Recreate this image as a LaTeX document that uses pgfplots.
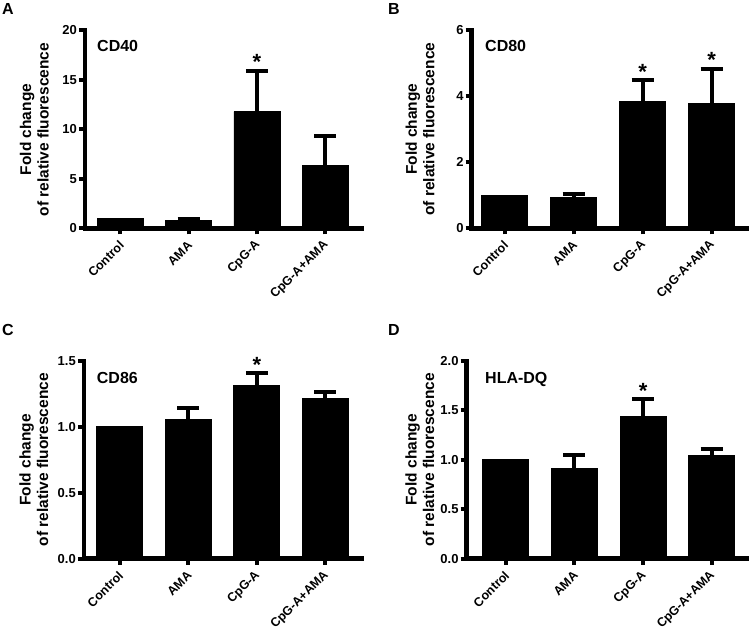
\documentclass[border=0pt]{standalone}
\usepackage{fontspec}
\setmainfont{Liberation Sans}
\usepackage{pgfplots}
\pgfplotsset{compat=1.18}

\newcommand\tickfont{\fontsize{13}{15}\selectfont\bfseries}
\newcommand\xfont{\fontsize{12.5}{14}\selectfont\bfseries}
\newcommand\labfont{\fontsize{15.5}{17.5}\selectfont\bfseries}
\newcommand\inner{\fontsize{16}{18}\selectfont\bfseries}
\newcommand\starfont{\fontsize{22}{24}\selectfont\bfseries}

\pgfplotsset{
  panel/.style={
    scale only axis,
    axis x line=bottom, axis y line=left,
    axis line style={-, line width=4.5pt, line cap=rect, black},
    tick align=outside,
    major tick length=6pt,
    tick style={line width=4pt, black},
    xtick={0,1,2,3},
    xticklabels={Control,AMA,CpG-A,CpG-A+AMA},
    xticklabel style={xshift=2pt, yshift=-8pt, rotate=45, anchor=east, font=\xfont, inner sep=1pt},
    yticklabel style={font=\tickfont, inner sep=2pt},
    /pgf/number format/assume math mode=true,
    ymin=0, enlargelimits=false,
    ylabel={Fold change\\of relative fluorescence},
    ylabel style={font=\labfont, align=center, anchor=center},
    ybar, bar width=46pt,
    clip=false,
  },
  barA/.style={fill=black, draw=black, line width=0.8pt, bar shift=0pt},
  barE/.style={fill=black, draw=black, line width=0.8pt, bar shift=0pt,
    error bars/.cd, y dir=plus, y explicit, error mark=-,
    error bar style={line width=4pt, black},
    error mark options={rotate=90, line width=4pt, mark size=11pt, black}},
}

\begin{document}
\begin{tikzpicture}
\useasboundingbox (0,0) rectangle (750pt,639pt);

% Panel letters
\node[anchor=base west, inner sep=0pt, font=\inner] at (2pt,624pt) {A};
\node[anchor=base west, inner sep=0pt, font=\inner] at (388pt,624pt) {B};
\node[anchor=base west, inner sep=0pt, font=\inner] at (2pt,303.5pt) {C};
\node[anchor=base west, inner sep=0pt, font=\inner] at (388pt,303pt) {D};

% Panel A
\begin{axis}[panel, at={(85pt,410.5pt)}, anchor=south west,
  width=277pt, height=198pt, xmin=-0.52, xmax=3.54,
  ymax=20, ytick={0,5,10,15,20},
  ylabel style={at={(axis description cs:-0.183,0.5)}}]
\addplot[barA] coordinates {(0,1.0)};
\addplot[barE] coordinates {(1,0.82) +- (0,0.18) (2,11.8) +- (0,4.15) (3,6.35) +- (0,2.95)};
\node[anchor=base west, inner sep=0pt, font=\inner] at (rel axis cs:0,1) [xshift=12pt, yshift=-21.5pt] {CD40};
\node[anchor=base, inner sep=0pt, font=\starfont] at (axis cs:2,15.95) [yshift=1pt] {*};
\end{axis}

% Panel B
\begin{axis}[panel, at={(471.7pt,410.7pt)}, anchor=south west,
  width=275pt, height=198pt, xmin=-0.48, xmax=3.51,
  ymax=6, ytick={0,2,4,6},
  ylabel style={at={(axis description cs:-0.188,0.5)}}]
\addplot[barA] coordinates {(0,1.0)};
\addplot[barE] coordinates {(1,0.93) +- (0,0.12) (2,3.84) +- (0,0.65) (3,3.77) +- (0,1.07)};
\node[anchor=base west, inner sep=0pt, font=\inner] at (rel axis cs:0,1) [xshift=13.3pt, yshift=-21.7pt] {CD80};
\node[anchor=base, inner sep=0pt, font=\starfont] at (axis cs:2,4.49) [yshift=1pt] {*};
\node[anchor=base, inner sep=0pt, font=\starfont] at (axis cs:3,4.84) [yshift=1pt] {*};
\end{axis}

% Panel C
\begin{axis}[panel, at={(84pt,80.3pt)}, anchor=south west,
  width=277.7pt, height=197.7pt, xmin=-0.52, xmax=3.53,
  ymax=1.5, ytick={0,0.5,1,1.5},
  yticklabel style={/pgf/number format/.cd, fixed, fixed zerofill, precision=1},
  ylabel style={at={(axis description cs:-0.181,0.5)}}]
\addplot[barA] coordinates {(0,1.0)};
\addplot[barE] coordinates {(1,1.057) +- (0,0.083) (2,1.313) +- (0,0.094) (3,1.217) +- (0,0.05)};
\node[anchor=base west, inner sep=0pt, font=\inner] at (rel axis cs:0,1) [xshift=12.7pt, yshift=-22.3pt] {CD86};
\node[anchor=base, inner sep=0pt, font=\starfont] at (axis cs:2,1.407) [yshift=1pt] {*};
\end{axis}

% Panel D
\begin{axis}[panel, at={(466.7pt,80.3pt)}, anchor=south west,
  width=280pt, height=197.7pt, xmin=-0.57, xmax=3.51,
  ymax=2, ytick={0,0.5,1,1.5,2},
  yticklabel style={/pgf/number format/.cd, fixed, fixed zerofill, precision=1},
  ylabel style={at={(axis description cs:-0.167,0.5)}}]
\addplot[barA] coordinates {(0,1.0)};
\addplot[barE] coordinates {(1,0.914) +- (0,0.135) (2,1.437) +- (0,0.175) (3,1.045) +- (0,0.068)};
\node[anchor=base west, inner sep=0pt, font=\inner] at (rel axis cs:0,1) [xshift=18.3pt, yshift=-23pt] {HLA-DQ};
\node[anchor=base, inner sep=0pt, font=\starfont] at (axis cs:2,1.612) [yshift=1pt] {*};
\end{axis}
\end{tikzpicture}
\end{document}
